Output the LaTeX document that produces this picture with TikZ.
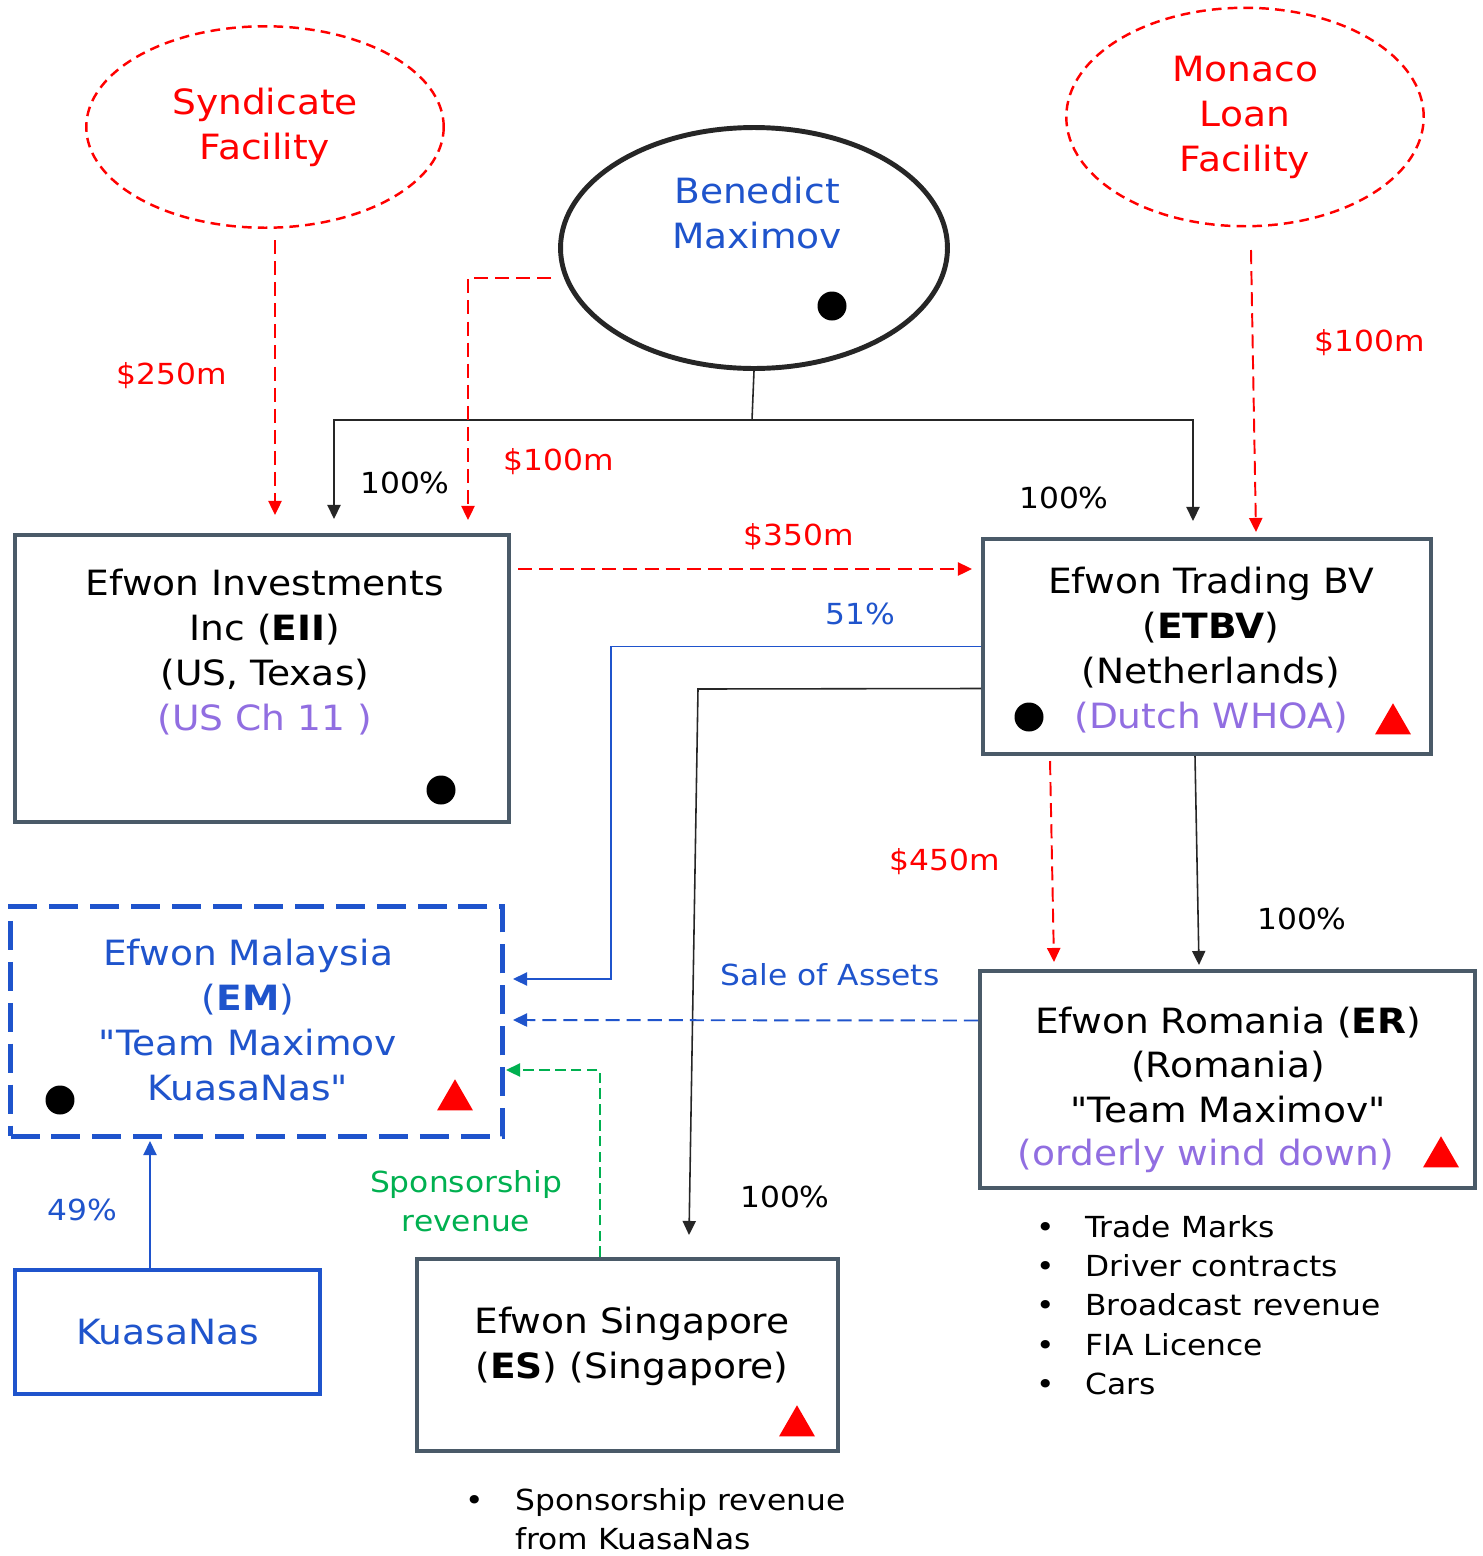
\documentclass[tikz,border=0pt]{standalone}
\usepackage{fontspec}
\setmainfont{DejaVu Sans}[FakeStretch=1.08,Ligatures=TeXOff]
\usetikzlibrary{arrows.meta,shapes.geometric,calc}

\definecolor{emred}{RGB}{255,0,0}
\definecolor{emblue}{RGB}{31,84,204}
\definecolor{empurple}{RGB}{145,110,225}
\definecolor{emgreen}{RGB}{0,176,80}
\definecolor{emslate}{RGB}{74,90,104}
\definecolor{emink}{RGB}{38,38,38}

\begin{document}
\begin{tikzpicture}[x=0.02cm,y=-0.02cm,>={Triangle[length=8pt,width=7.5pt]},
    bigtext/.style={font=\fontsize{19.8pt}{25.6pt}\selectfont,align=center,inner sep=0pt},
    smalltext/.style={font=\fontsize{16.5pt}{22.3pt}\selectfont,align=center,inner sep=0pt},
    entity/.style={draw=emslate,line width=2.3pt,rectangle,inner sep=0pt},
    lender/.style={draw=emred,ellipse,dash pattern=on 5.5pt off 3.5pt,line width=1.4pt,text=emred,bigtext},
    loan/.style={emred,line width=1.1pt,dash pattern=on 8pt off 4pt},
    own/.style={emink,line width=0.9pt},
    stake/.style={emblue,line width=0.9pt},
    sale/.style={emblue,line width=1.1pt,dash pattern=on 8pt off 4pt},
    spons/.style={emgreen,line width=1pt,dash pattern=on 6pt off 3pt},
    blob/.style={circle,fill=black,inner sep=0pt,minimum size=0.58cm},
    risk/.style={regular polygon,regular polygon sides=3,fill=emred,inner sep=0pt,minimum size=0.83cm}]
  \fill[white] (0,0) rectangle (1483,1556);
  \useasboundingbox (0,0) rectangle (1483,1556);

  % lenders and owner
  \node[lender,minimum width=7.15cm,minimum height=4.03cm] (synd) at (265,127) {Syndicate\\Facility};
  \node[lender,minimum width=7.15cm,minimum height=4.37cm] (monaco) at (1245,117) {Monaco\\Loan\\Facility};
  \node[draw=emink,ellipse,line width=2.8pt,minimum width=7.74cm,minimum height=4.82cm] (bm) at (754,248) {};
  \node[bigtext,text=emblue] (bmname) at (757,213) {Benedict\\Maximov};
  \node[blob] (bmdot) at (832,306) {};

  % group companies
  \node[entity,minimum width=9.88cm,minimum height=5.74cm] (eii) at (262,678.5) {};
  \node[bigtext] (eiitext) at (265,652) {Efwon Investments\\Inc (\textbf{EII})\\(US, Texas)\\\textcolor{empurple}{(US Ch 11 )}};
  \node[blob] (eiidot) at (441,790) {};

  \node[entity,minimum width=8.96cm,minimum height=4.30cm] (etbv) at (1207,646.5) {};
  \node[bigtext] (etbvtext) at (1211,650) {Efwon Trading BV\\(\textbf{ETBV})\\(Netherlands)\\\textcolor{empurple}{(Dutch WHOA)}};
  \node[blob] (etbvdot) at (1029,717) {};
  \node[risk] (etbvrisk) at (1393,724) {};

  \node[entity,minimum width=9.90cm,minimum height=4.34cm] (er) at (1227.5,1079.5) {};
  \node[bigtext] (ertext) at (1228,1065) {Efwon Romania (\textbf{ER})\\(Romania)\\"Team Maximov"};
  \node[bigtext,text=empurple] (erstate) at (1206,1156) {(orderly wind down)};
  \node[risk] (errisk) at (1441,1157) {};

  \node[draw=emblue,line width=2.85pt,dash pattern=on 16.5pt off 6.8pt,rectangle,inner sep=0pt,
        minimum width=9.84cm,minimum height=4.60cm] (em) at (256.5,1021.5) {};
  \node[bigtext,text=emblue] (emtext) at (248,1020) {Efwon Malaysia\\(\textbf{EM})\\"Team Maximov\\KuasaNas"};
  \node[blob] (emdot) at (60,1100) {};
  \node[risk] (emrisk) at (455,1100) {};

  \node[draw=emblue,line width=2.3pt,rectangle,inner sep=0pt,minimum width=6.10cm,minimum height=2.48cm,
        bigtext,text=emblue] (kn) at (167.5,1332) {KuasaNas};

  \node[entity,minimum width=8.42cm,minimum height=3.84cm] (es) at (627.5,1355) {};
  \node[bigtext] (estext) at (632,1346) {Efwon Singapore\\(\textbf{ES}) (Singapore)};
  \node[risk] (esrisk) at (797,1426) {};

  % asset lists
  \node[smalltext,align=left,anchor=west] (erlist) at (1036,1305)
    {\makebox[0.98cm][l]{\textbullet}Trade Marks\\\makebox[0.98cm][l]{\textbullet}Driver contracts\\
     \makebox[0.98cm][l]{\textbullet}Broadcast revenue\\\makebox[0.98cm][l]{\textbullet}FIA Licence\\
     \makebox[0.98cm][l]{\textbullet}Cars};
  \node[smalltext,align=left,anchor=west] (eslist) at (465,1519)
    {\makebox[1.0cm][l]{\textbullet}Sponsorship revenue\\\hspace*{1.0cm}from KuasaNas};

  % ownership from Benedict
  \coordinate (split) at (752,420);
  \coordinate (eiiown) at (334,519);
  \coordinate (etbvown) at (1193,521);
  \draw[own] (bm.south) -- (split);
  \draw[own,->] (split) -| (eiiown);
  \draw[own,->] (split) -| (etbvown);

  % loans
  \coordinate (bmloan) at (551,278);
  \coordinate (eiiloan) at (468,520);
  \draw[loan,->] (bmloan) -| (eiiloan);
  \coordinate (syndloan) at (275,240);
  \coordinate (eiisynd) at (275,515);
  \draw[loan,->] (syndloan) -- (eiisynd);
  \coordinate (monloan) at (1251,250);
  \coordinate (etbvmon) at (1256,532);
  \draw[loan,->] (monloan) -- (etbvmon);
  \coordinate (eiilend) at (518,569);
  \coordinate (etbvloan) at (972,569);
  \draw[loan,->] (eiilend) -- (etbvloan);
  \coordinate (erloan) at (1054,962);
  \draw[loan,->] ([xshift=-3.14cm,yshift=-0.1cm]etbv.south) -- (erloan);

  % holdings of ETBV
  \coordinate (bend51) at (611,979);
  \coordinate (em51) at (513,979);
  \draw[stake,->] (etbv.west) -| (bend51) |- (em51);
  \coordinate (bendes) at (698,689);
  \coordinate (esown) at (689,1235);
  \draw[own,->] ([yshift=-0.84cm]etbv.west) -- (bendes) -- (esown);
  \coordinate (erown) at (1199,965);
  \draw[own,->] ([xshift=-0.24cm]etbv.south) -- (erown);

  % flows into EM
  \coordinate (emsale) at (513,1020);
  \draw[sale,->] ([yshift=1.18cm]er.west) -- (emsale);
  \coordinate (emspons) at (506,1070);
  \draw[spons,->] ([xshift=-0.55cm]es.north) |- (emspons);
  \coordinate (emkn) at (150,1141);
  \draw[stake,->] ([xshift=-0.35cm]kn.north) -- (emkn);

  % labels
  \node[smalltext,text=emred] (l250) at (172,376) {\$250m};
  \node[smalltext] (p100eii) at (405,483) {100\%};
  \node[smalltext,text=emred] (l100bm) at (559,462) {\$100m};
  \node[smalltext] (p100etbv) at (1064,498) {100\%};
  \node[smalltext,text=emred] (l100mon) at (1370,343) {\$100m};
  \node[smalltext,text=emred] (l350) at (799,537) {\$350m};
  \node[smalltext,text=emblue] (p51) at (860,614) {51\%};
  \node[smalltext,text=emred] (l450) at (945,862) {\$450m};
  \node[smalltext] (p100er) at (1302,919) {100\%};
  \node[smalltext,text=emblue] (lsale) at (830,975) {Sale of Assets};
  \node[smalltext] (p100es) at (785,1197) {100\%};
  \node[smalltext,text=emblue] (p49) at (82,1210) {49\%};
  \node[smalltext,text=emgreen] (lspons) at (466,1201) {Sponsorship\\revenue};
\end{tikzpicture}
\end{document}
